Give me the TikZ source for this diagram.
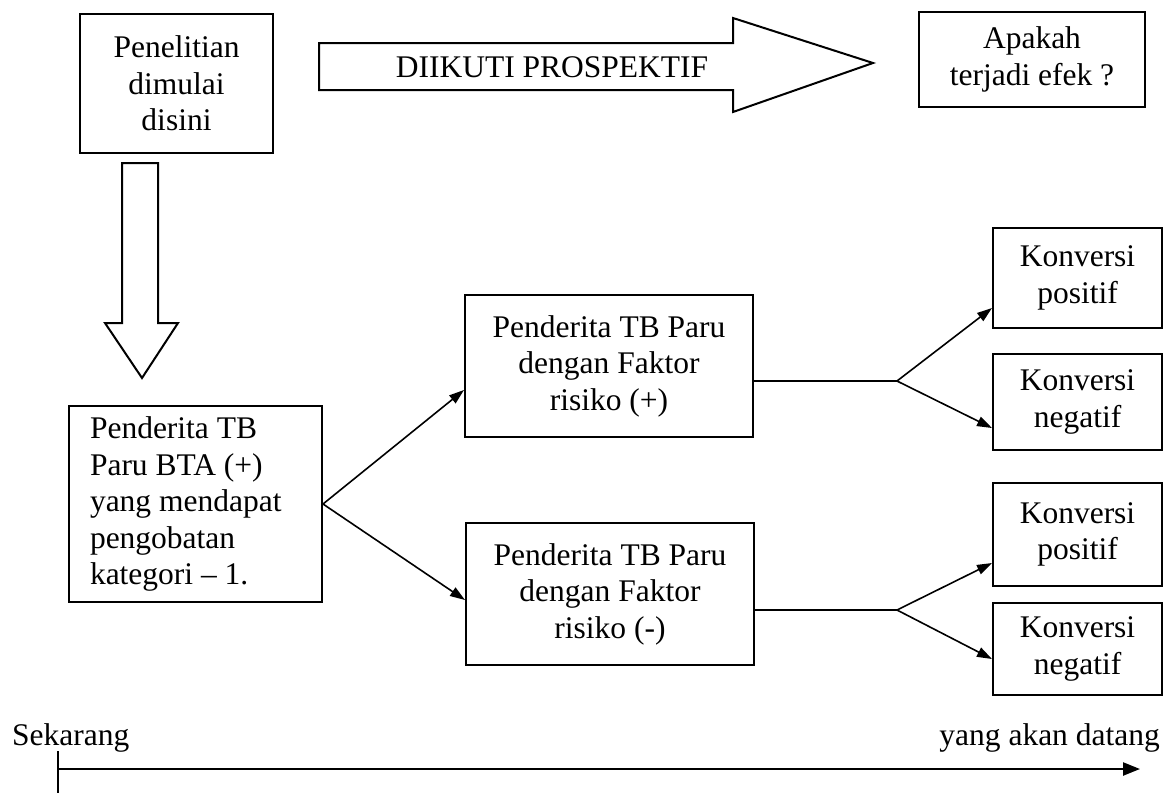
\documentclass[tikz,border=0pt]{standalone}
\usepackage{fontspec}
\setmainfont{Liberation Serif}
\usetikzlibrary{arrows.meta,calc}
\begin{document}
\begin{tikzpicture}[x=1pt,y=-1pt,
  every node/.style={font=\fontsize{31.5}{36.5}\selectfont},
  box/.style={draw,line width=2pt,align=center,inner sep=0pt,minimum width=#1},
  conn/.style={line width=1.6pt,-{Triangle[length=15pt,width=10pt]}},
  plain/.style={line width=1.6pt},
  blockarrow/.style={draw,line width=2pt,fill=white,line join=miter}]
\useasboundingbox (0,0) rectangle (1167,793);
% boxes
\node[box=193pt,minimum height=139pt] (start) at (176.5,83.5) {Penelitian\\dimulai\\disini};
\node[draw,line width=2pt,align=flush left,text width=211pt,inner xsep=21pt,inner ysep=0pt,minimum height=196pt] (bta) at (195.5,504) {Penderita TB\\Paru BTA (+)\\yang mendapat\\pengobatan\\kategori -- 1.};
\node[box=288pt,minimum height=142pt] (ppos) at (609,366) {Penderita TB Paru\\dengan Faktor\\risiko (+)};
\node[box=288pt,minimum height=142pt] (pneg) at (610,594) {Penderita TB Paru\\dengan Faktor\\risiko (-)};
\node[box=226pt,minimum height=95pt] (efek) at (1032,59.5) {Apakah\\terjadi efek ?};
\node[box=169pt,minimum height=100pt] (kpos1) at (1077.5,278) {Konversi\\positif};
\node[box=169pt,minimum height=96pt] (kneg1) at (1077.5,402) {Konversi\\negatif};
\node[box=169pt,minimum height=103pt] (kpos2) at (1077.5,534.5) {Konversi\\positif};
\node[box=169pt,minimum height=92pt] (kneg2) at (1077.5,649) {Konversi\\negatif};
% block arrow down
\draw[blockarrow] (122,163) -- (158,163) -- (158,323) -- (178,323) -- (142,378) -- (105,323) -- (122,323) -- cycle;
% block arrow right
\draw[blockarrow] (319,43) -- (733,43) -- (733,18) -- (873,63) -- (733,112) -- (733,90) -- (319,90) -- cycle;
\node (prosp) at (552,67) {DIIKUTI PROSPEKTIF};
% connectors from bta
\draw[conn] (bta.east) -- ($(ppos.west)+(0,24)$);
\draw[conn] (bta.east) -- ($(pneg.west)+(0,6)$);
% branches
\coordinate (b1) at (897,381);
\coordinate (b2) at (897,610);
\draw[plain] (b1 -| ppos.east) -- (b1);
\draw[plain] (b2 -| pneg.east) -- (b2);
\draw[conn] (b1) -- ($(kpos1.south west)+(0,-21)$);
\draw[conn] (b1) -- ($(kneg1.south west)+(0,-23)$);
\draw[conn] (b2) -- ($(kpos2.south west)+(0,-24)$);
\draw[conn] (b2) -- ($(kneg2.south west)+(0,-37)$);
% timeline
\node[anchor=base west,inner sep=0pt] (now) at (12,745) {Sekarang};
\node[anchor=base east,inner sep=0pt] (future) at (1160,745) {yang akan datang};
\coordinate (t0) at (58,769);
\coordinate (t1) at (1140,769);
\draw[line width=1.6pt] (58,751) -- (58,793);
\draw[line width=2.4pt,-{Triangle[length=17pt,width=13pt]}] (t0) -- (t1);
\end{tikzpicture}
\end{document}
